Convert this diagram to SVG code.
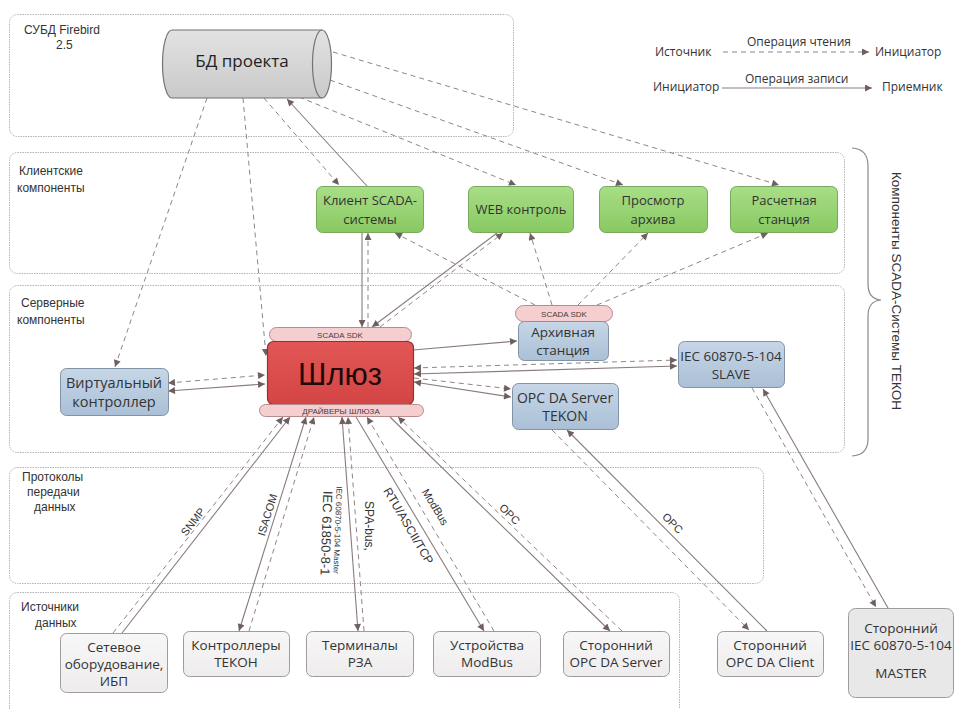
<svg xmlns="http://www.w3.org/2000/svg" width="956" height="709" viewBox="0 0 956 709">
<defs>
<linearGradient id="gGreen" x1="0" y1="0" x2="0" y2="1"><stop offset="0" stop-color="#a8de86"/><stop offset="1" stop-color="#88c962"/></linearGradient>
<linearGradient id="gBlue" x1="0" y1="0" x2="0" y2="1"><stop offset="0" stop-color="#c6d6e7"/><stop offset="1" stop-color="#abc0d6"/></linearGradient>
<linearGradient id="gRed" x1="0" y1="0" x2="0" y2="1"><stop offset="0" stop-color="#e25656"/><stop offset="1" stop-color="#d44545"/></linearGradient>
<linearGradient id="gCyl" x1="0" y1="0" x2="0" y2="1"><stop offset="0" stop-color="#e2e2e2"/><stop offset="0.5" stop-color="#d6d6d6"/><stop offset="1" stop-color="#c9c9c9"/></linearGradient>
<linearGradient id="gGray" x1="0" y1="0" x2="0" y2="1"><stop offset="0" stop-color="#f8f7f7"/><stop offset="1" stop-color="#eeecec"/></linearGradient>
<marker id="ah" viewBox="0 0 10 10" refX="10" refY="5" markerWidth="9" markerHeight="7" orient="auto-start-reverse" markerUnits="userSpaceOnUse"><path d="M0,0 L10,5 L0,10 z" fill="#6f5f5f"/></marker>
</defs>
<style>
.cont{fill:#fff;stroke:#b4b4b4;stroke-width:1;stroke-dasharray:1.5 1}
.sec{font-family:"Liberation Sans",Arial,sans-serif;font-size:12px;fill:#333}
.nt{font-family:"Open Sans","Noto Sans",sans-serif;fill:#333;text-anchor:middle}
.green{fill:url(#gGreen);stroke:#78a95d;stroke-width:1}
.blue{fill:url(#gBlue);stroke:#8293a6;stroke-width:1}
.src{fill:url(#gGray);stroke:#a29b9b;stroke-width:1}
.bar{fill:#f5cfcf;stroke:#b58b8b;stroke-width:1}
.bt{font-family:"Liberation Sans",Arial,sans-serif;font-size:8px;fill:#4a3a3a;text-anchor:middle}
.d{fill:none;stroke:#8f8585;stroke-width:1;stroke-dasharray:5 4}
.s{fill:none;stroke:#8a7c7c;stroke-width:1.1}
.e{marker-end:url(#ah)}
.b{marker-start:url(#ah);marker-end:url(#ah)}
.pl{font-family:"Liberation Sans",Arial,sans-serif;fill:#333;text-anchor:middle}
.lg{font-family:"Open Sans","Noto Sans",sans-serif;font-size:12px;fill:#333}
</style>
<rect width="956" height="709" fill="#fff"/>

<!-- containers -->
<g id="c-db"><rect class="cont" x="9.5" y="14.5" width="504" height="122" rx="8"/>
<text class="sec" x="24" y="34">СУБД Firebird</text><text class="sec" x="56" y="49">2.5</text></g>
<g id="c-client"><rect class="cont" x="9.5" y="152.5" width="835" height="121" rx="8"/>
<text class="sec" x="19" y="175">Клиентские</text><text class="sec" x="17" y="192">компоненты</text></g>
<g id="c-server"><rect class="cont" x="9.5" y="285.5" width="835" height="167" rx="8"/>
<text class="sec" x="21" y="307">Серверные</text><text class="sec" x="17" y="324">компоненты</text></g>
<g id="c-proto"><rect class="cont" x="9.5" y="467.5" width="754" height="116" rx="8"/>
<text class="sec" x="22" y="481">Протоколы</text><text class="sec" x="27" y="496">передачи</text><text class="sec" x="34" y="511">данных</text></g>
<g id="c-src"><rect class="cont" x="9.5" y="592.5" width="670" height="130" rx="8"/>
<text class="sec" x="21" y="611">Источники</text><text class="sec" x="35" y="627">данных</text></g>

<!-- brace -->
<g id="brace"><path d="M852,148 Q868,149 868,166 L868,284 Q868,299 881,300 Q868,301 868,316 L868,439 Q868,455 852,456" fill="none" stroke="#8a8a8a" stroke-width="1.2"/>
<text class="sec" transform="translate(892,291) rotate(90)" text-anchor="middle" style="font-size:13.5px">Компоненты SCADA-Системы ТЕКОН</text></g>

<!-- legend -->
<g id="legend">
<text class="lg" x="655" y="56">Источник</text>
<text class="lg" x="747" y="46">Операция чтения</text>
<line class="d e" x1="723" y1="52" x2="869" y2="52"/>
<text class="lg" x="875" y="56">Инициатор</text>
<text class="lg" x="653" y="91">Инициатор</text>
<text class="lg" x="745" y="83">Операция записи</text>
<line class="s e" x1="722" y1="88" x2="872" y2="88"/>
<text class="lg" x="882" y="91">Приемник</text>
</g>

<!-- connectors -->
<g id="connectors">
<!-- from DB -->
<line class="d e" x1="207" y1="98" x2="115" y2="367"/>
<line class="d e" x1="243" y1="98" x2="266" y2="356"/>
<line class="d e" x1="264" y1="98" x2="339" y2="185"/>
<line class="s e" x1="367" y1="186" x2="287" y2="99"/>
<line class="d e" x1="299" y1="97" x2="516" y2="185"/>
<line class="d e" x1="330" y1="80" x2="623" y2="185"/>
<line class="d e" x1="333" y1="52" x2="779" y2="185"/>
<!-- client - gateway -->
<line class="s e" x1="362" y1="233" x2="362" y2="327"/>
<line class="d e" x1="368" y1="327" x2="368" y2="233"/>
<line class="s e" x1="497" y1="233" x2="372" y2="327"/>
<line class="d e" x1="380" y1="327" x2="503" y2="233"/>
<!-- archive sdk to clients -->
<line class="d e" x1="535" y1="305" x2="395" y2="233"/>
<line class="d e" x1="552" y1="305" x2="530" y2="233"/>
<line class="d e" x1="578" y1="305" x2="648" y2="233"/>
<line class="d e" x1="597" y1="305" x2="768" y2="233"/>
<!-- gateway - server components -->
<line class="d b" x1="168" y1="383" x2="265" y2="375"/>
<line class="s b" x1="168" y1="391" x2="265" y2="384"/>
<line class="s e" x1="413" y1="350" x2="517" y2="341"/>
<line class="d b" x1="414" y1="368" x2="677" y2="360"/>
<line class="s b" x1="414" y1="374" x2="677" y2="366"/>
<line class="d e" x1="414" y1="378" x2="511" y2="389"/>
<line class="s b" x1="414" y1="382" x2="511" y2="397"/>
<!-- sources - drivers -->
<line class="d e" x1="113" y1="633" x2="283" y2="417"/>
<line class="s e" x1="122" y1="633" x2="290" y2="417"/>
<line class="d e" x1="249" y1="631" x2="314" y2="417"/>
<line class="s b" x1="306" y1="417" x2="239" y2="631"/>
<line class="s b" x1="342" y1="417" x2="358" y2="631"/>
<line class="d e" x1="364" y1="631" x2="348" y2="417"/>
<line class="s e" x1="356" y1="417" x2="484" y2="631"/>
<line class="d e" x1="494" y1="631" x2="367" y2="417"/>
<line class="d e" x1="622" y1="631" x2="398" y2="417"/>
<line class="s e" x1="390" y1="417" x2="610" y2="631"/>
<line class="d e" x1="552" y1="430" x2="749" y2="630"/>
<line class="s e" x1="767" y1="631" x2="567" y2="430"/>
<line class="d e" x1="752" y1="388" x2="876" y2="607"/>
<line class="s e" x1="888" y1="608" x2="763" y2="389"/>
<!-- protocol labels -->
<text class="pl" font-size="11" transform="translate(196,524) rotate(-52.7)">SNMP</text>
<text class="pl" font-size="11" transform="translate(271,516) rotate(-73)">ISACOM</text>
<text class="pl" font-size="13" transform="translate(322,533) rotate(92)">IEC 61850-8-1</text>
<text class="pl" font-size="8" transform="translate(335,530) rotate(92)">IEC 60870-5-104 Master</text>
<text class="pl" font-size="12" transform="translate(365,526) rotate(90)">SPA-bus,</text>
<text class="pl" font-size="12" transform="translate(405,528) rotate(59.6)">RTU/ASCII/TCP</text>
<text class="pl" font-size="11" transform="translate(432,509) rotate(59)">ModBus</text>
<text class="pl" font-size="11" transform="translate(507,517) rotate(45)">OPC</text>
<text class="pl" font-size="11" transform="translate(670,526) rotate(45)">OPC</text>
</g>

<!-- DB -->
<g id="n-db">
<path d="M172,30 L322,30 A9.5,34 0 0 1 322,98 L172,98 A9.5,34 0 0 1 172,30 Z" fill="url(#gCyl)" stroke="#7b7070" stroke-width="1.2"/>
<path d="M322,30 A9.5,34 0 0 0 322,98" fill="none" stroke="#7b7070" stroke-width="1.2"/>
<text class="nt" x="242" y="67" style="font-size:17px;fill:#222">БД проекта</text>
</g>

<!-- client nodes -->
<g id="n-client"><rect class="green" x="316.5" y="186.5" width="107" height="46" rx="6"/>
<text class="nt" x="370" y="205" font-size="13">Клиент SCADA-</text><text class="nt" x="370" y="224" font-size="13">системы</text></g>
<g id="n-web"><rect class="green" x="468.5" y="186.5" width="105" height="46" rx="6"/>
<text class="nt" x="521" y="214" font-size="13">WEB контроль</text></g>
<g id="n-view"><rect class="green" x="599.5" y="186.5" width="108" height="46" rx="6"/>
<text class="nt" x="653" y="205" font-size="13">Просмотр</text><text class="nt" x="653" y="224" font-size="13">архива</text></g>
<g id="n-calc"><rect class="green" x="730.5" y="186.5" width="107" height="46" rx="6"/>
<text class="nt" x="784" y="205" font-size="13">Расчетная</text><text class="nt" x="784" y="224" font-size="13">станция</text></g>

<!-- server nodes -->
<g id="n-virt"><rect class="blue" x="60.5" y="368.5" width="108" height="47" rx="6"/>
<text class="nt" x="114" y="388" font-size="14.5">Виртуальный</text><text class="nt" x="114" y="407" font-size="14.5">контроллер</text></g>
<g id="n-gw">
<rect class="bar" x="269.5" y="327.5" width="142" height="14" rx="7"/>
<text class="bt" x="340" y="338">SCADA SDK</text>
<rect x="267.5" y="341.5" width="146" height="63" rx="6" fill="url(#gRed)" stroke="#8d3434" stroke-width="1.2"/>
<text x="340" y="385" text-anchor="middle" style="font-family:'Liberation Sans',Arial,sans-serif;font-size:31px;fill:#1f0a0a">Шлюз</text>
<rect class="bar" x="259.5" y="404.5" width="164" height="12" rx="6"/>
<text class="bt" x="341" y="414">ДРАЙВЕРЫ ШЛЮЗА</text>
</g>
<g id="n-arch">
<rect class="bar" x="515.5" y="305.5" width="97" height="16" rx="8"/>
<text class="bt" x="564" y="316.5">SCADA SDK</text>
<rect class="blue" x="518.5" y="321.5" width="90" height="39" rx="6"/>
<text class="nt" x="563" y="337" font-size="13.5">Архивная</text><text class="nt" x="563" y="355" font-size="13.5">станция</text></g>
<g id="n-slave"><rect class="blue" x="678.5" y="341.5" width="106" height="46" rx="6"/>
<text class="nt" x="731" y="361" font-size="13.5">IEC 60870-5-104</text><text class="nt" x="731" y="379" font-size="13.5">SLAVE</text></g>
<g id="n-opcs"><rect class="blue" x="512.5" y="383.5" width="106" height="46" rx="6"/>
<text class="nt" x="565" y="403" font-size="14">OPC DA Server</text><text class="nt" x="565" y="421" font-size="14">TEKON</text></g>

<!-- source nodes -->
<g id="n-net"><rect class="src" x="60.5" y="633.5" width="107" height="59" rx="6"/>
<text class="nt" x="114" y="652" font-size="13.5">Сетевое</text><text class="nt" x="114" y="669" font-size="13.5">оборудование,</text><text class="nt" x="114" y="686" font-size="13.5">ИБП</text></g>
<g id="n-ctrl"><rect class="src" x="183.5" y="631.5" width="106" height="45" rx="6"/>
<text class="nt" x="236" y="650" font-size="13.5">Контроллеры</text><text class="nt" x="236" y="667" font-size="13.5">ТЕКОН</text></g>
<g id="n-term"><rect class="src" x="306.5" y="631.5" width="107" height="45" rx="6"/>
<text class="nt" x="360" y="650" font-size="13.5">Терминалы</text><text class="nt" x="360" y="667" font-size="13.5">РЗА</text></g>
<g id="n-modbus"><rect class="src" x="433.5" y="631.5" width="107" height="45" rx="6"/>
<text class="nt" x="487" y="650" font-size="13.5">Устройства</text><text class="nt" x="487" y="667" font-size="13.5">ModBus</text></g>
<g id="n-opcsrv"><rect class="src" x="563.5" y="631.5" width="106" height="45" rx="6"/>
<text class="nt" x="616" y="650" font-size="13.5">Сторонний</text><text class="nt" x="616" y="667" font-size="13.5">OPC DA Server</text></g>
<g id="n-opccli"><rect class="src" x="717.5" y="631.5" width="106" height="45" rx="6"/>
<text class="nt" x="770" y="650" font-size="13.5">Сторонний</text><text class="nt" x="770" y="667" font-size="13.5">OPC DA Client</text></g>
<g id="n-master"><rect x="848.5" y="608.5" width="105" height="89" rx="7" fill="#e9e8e8" stroke="#a29b9b" stroke-width="1"/>
<text class="nt" x="901" y="633" font-size="13.5">Сторонний</text><text class="nt" x="901" y="650" font-size="13.5">IEC 60870-5-104</text><text class="nt" x="901" y="678" font-size="13.5">MASTER</text></g>
</svg>
